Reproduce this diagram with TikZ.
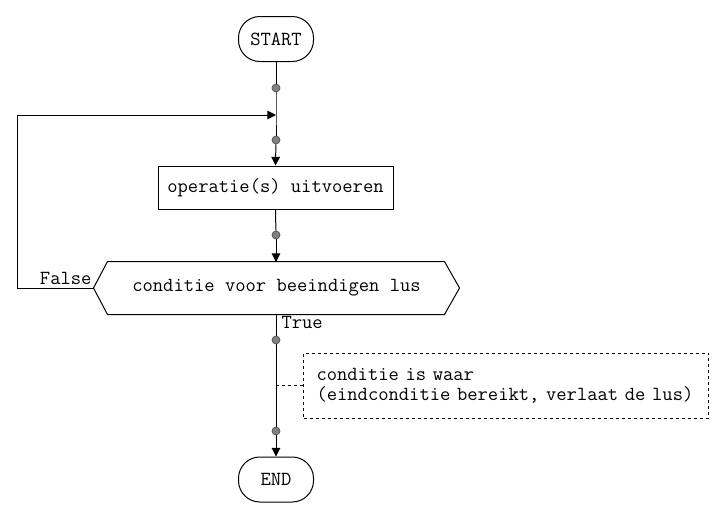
\documentclass[tikz,border=0pt]{standalone}
\usepackage{fontspec}
\usetikzlibrary{arrows.meta,calc}
\begin{document}
\begin{tikzpicture}[x=0.75pt,y=-0.75pt,
  font=\ttfamily\fontsize{15}{15}\selectfont,
  line width=0.75pt,
  term/.style={draw, rounded corners=16pt, minimum width=56.25pt, minimum height=33.75pt, inner sep=0pt},
  procbox/.style={draw, minimum width=176.25pt, minimum height=32.25pt, inner sep=0pt},
  dot/.style={circle, draw=black!70, fill=black!50, line width=0.5pt, minimum size=6pt, inner sep=0pt},
  arr/.style={-{Triangle[length=6.5pt,width=6.5pt]}},
  note/.style={draw, dash pattern=on 2.25pt off 2.25pt, minimum width=303.75pt, minimum height=48.75pt, inner xsep=9.75pt, text width=284.25pt, align=left},
  lbl/.style={inner sep=0pt}
]
\useasboundingbox (0,0) rectangle (726,518);
\node[term] (start) at (276,39) {START};
\node[dot] (d1) at (276,88) {};
\coordinate (m) at (276,115);
\node[dot] (d2) at (276,140) {};
\node[procbox] (op) at (275.5,187.5) {operatie(s) uitvoeren};
\node[dot] (d3) at (276,235) {};
\node[minimum width=273.75pt, minimum height=39pt, inner sep=0pt] (cond) at (276.5,288) {conditie voor beeindigen lus};
\draw ($(cond.north west)+(14,0)$) -- ($(cond.north east)+(-15,0)$) -- (cond.east)
  -- ($(cond.south east)+(-15,0)$) -- ($(cond.south west)+(14,0)$) -- (cond.west) -- cycle;
\node[dot] (d4) at (276,340) {};
\node[dot] (d5) at (276,431) {};
\node[term] (end) at (276,479.5) {END};
\node[note, anchor=west] (cm) at (303,385.5) {conditie is waar\\(eindconditie bereikt, verlaat de lus)};
\coordinate (cj) at (276,385.5);
\coordinate (lb) at (17,288);
\coordinate (lt) at (17,115);
\node[lbl, anchor=base east] (fl) at (92,284) {False};
\node[lbl, anchor=base west] (tl) at (281,328) {True};

\draw (start) -- (d1) -- (m) -- (d2);
\draw[arr] (d2) -- (op.north);
\draw (op.south) -- (d3);
\draw[arr] (d3) -- (276,262);
\draw[arr] (cond.west) -- (lb) -- (lt) -- (m);
\draw (276,314) -- (d4) -- (d5);
\draw[arr] (d5) -- (end.north);
\draw[dash pattern=on 2.25pt off 2.25pt] (cj) -- (cm.west);
\end{tikzpicture}
\end{document}
